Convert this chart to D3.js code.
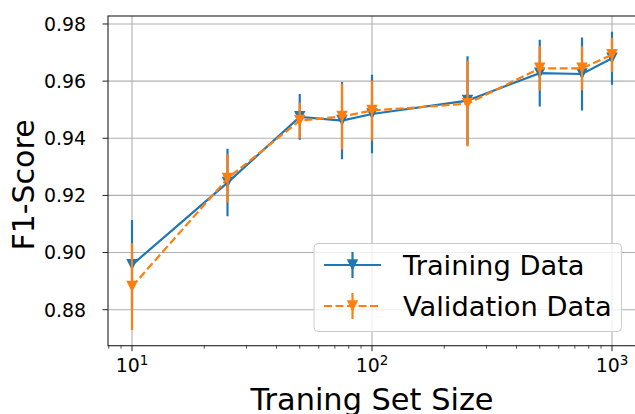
<!DOCTYPE html>
<html><head><meta charset="utf-8">
<script src="https://cdn.jsdelivr.net/npm/d3@7"></script>
<style>body{margin:0;background:#fff}svg{display:block;font-family:"DejaVu Sans",sans-serif}</style>
</head><body><svg id="c" width="635" height="414"></svg>
<script>
const sizes = [10, 25, 50, 75, 100, 250, 500, 750, 1000];
const trainScore = [0.8957, 0.9245, 0.9475, 0.9462, 0.9485, 0.9532, 0.9628, 0.9625, 0.9680];
const trainErr   = [0.0157, 0.0118, 0.0080, 0.0135, 0.0137, 0.0155, 0.0117, 0.0128, 0.0093];
const valScore   = [0.8881, 0.9259, 0.9462, 0.9476, 0.9497, 0.9521, 0.9645, 0.9645, 0.9692];
const valErr     = [0.0152, 0.0085, 0.0062, 0.0115, 0.0105, 0.0150, 0.0078, 0.0077, 0.0060];
const yTicks = [0.88, 0.90, 0.92, 0.94, 0.96, 0.98];
const xTicks = [10, 100, 1000];
const xTickExp = ["1", "2", "3"];
const seriesNames = ["Training Data", "Validation Data"];
const colors = ["#1f77b4", "#ff7f0e"];

const svg = d3.select("#c");
const L = 108, R = 636, T = 16, B = 345.7;
const x = d3.scaleLog().domain([Math.pow(10, 0.9), Math.pow(10, 3.1)]).range([L, R]);
const y = d3.scaleLinear().domain([0.8674, 0.9828]).range([B, T]);

const defs = svg.append("defs");
defs.append("clipPath").attr("id", "clip").append("rect").attr("x", L).attr("y", T).attr("width", R - L).attr("height", B - T);

// grid
const grid = svg.append("g").attr("stroke", "#b0b0b0").attr("stroke-width", 1.1);
xTicks.forEach(t => grid.append("line").attr("x1", x(t)).attr("x2", x(t)).attr("y1", T).attr("y2", B));
yTicks.forEach(t => grid.append("line").attr("x1", L).attr("x2", R).attr("y1", y(t)).attr("y2", y(t)));

// series
const plot = svg.append("g").attr("clip-path", "url(#clip)");
const series = [
  {vals: trainScore, err: trainErr, dash: null},
  {vals: valScore, err: valErr, dash: "8,3.5"}
];
const tri = s => `M${-s/2},${-s/2}L${s/2},${-s/2}L0,${s/2}Z`;
series.forEach((s, i) => {
  const g = plot.append("g");
  const pts = sizes.map((d, j) => ({x: d, v: s.vals[j], e: s.err[j]}));
  g.selectAll("line.eb").data(pts).enter().append("line")
    .attr("x1", d => x(d.x)).attr("x2", d => x(d.x))
    .attr("y1", d => y(d.v - d.e)).attr("y2", d => y(d.v + d.e))
    .attr("stroke", colors[i]).attr("stroke-width", 2.2);
  g.append("path").datum(pts)
    .attr("d", d3.line().x(d => x(d.x)).y(d => y(d.v)))
    .attr("fill", "none").attr("stroke", colors[i]).attr("stroke-width", 2.2)
    .attr("stroke-dasharray", s.dash);
  g.selectAll("path.m").data(pts).enter().append("path")
    .attr("transform", d => `translate(${x(d.x)},${y(d.v)})`)
    .attr("d", tri(11.5)).attr("fill", colors[i]);
});

// spines
const sp = svg.append("g").attr("stroke", "#222").attr("stroke-width", 1.1).attr("fill", "none");
sp.append("rect").attr("x", L).attr("y", T).attr("width", R - L).attr("height", B - T);

// y ticks
const ya = svg.append("g");
yTicks.forEach(t => {
  ya.append("line").attr("x1", L - 5.5).attr("x2", L).attr("y1", y(t)).attr("y2", y(t)).attr("stroke", "#222").attr("stroke-width", 1);
  ya.append("text").attr("x", 86).attr("y", y(t)).attr("dy", "0.36em").attr("text-anchor", "end")
    .attr("font-size", 18.9).attr("fill", "#000").text(t.toFixed(2));
});
// x ticks (major + minor)
const xa = svg.append("g");
xTicks.forEach((t, k) => {
  xa.append("line").attr("x1", x(t)).attr("x2", x(t)).attr("y1", B).attr("y2", B + 5.5).attr("stroke", "#222").attr("stroke-width", 1);
  const tx = xa.append("text").attr("x", x(t)).attr("y", 372).attr("text-anchor", "middle").attr("font-size", 18.9).attr("fill", "#000");
  tx.append("tspan").text("10");
  tx.append("tspan").attr("font-size", 13.5).attr("dy", -6.8).text(xTickExp[k]);
});
const [d0, d1] = x.domain();
for (let p = 0; p <= 3; p++) {
  for (let m = 2; m <= 9; m++) {
    const v = m * Math.pow(10, p);
    if (v >= d0 && v <= d1) {
      xa.append("line").attr("x1", x(v)).attr("x2", x(v)).attr("y1", B).attr("y2", B + 3).attr("stroke", "#222").attr("stroke-width", 0.8);
    }
  }
}

// axis labels
svg.append("text").attr("x", 372).attr("y", 410).attr("text-anchor", "middle").attr("font-size", 30.4).attr("fill", "#000").text("Traning Set Size");
svg.append("text").attr("transform", "translate(33.5,185) rotate(-90)").attr("text-anchor", "middle").attr("font-size", 30).attr("fill", "#000").text("F1-Score");

// legend
const lg = svg.append("g");
lg.append("rect").attr("x", 314).attr("y", 243.5).attr("width", 307.5).attr("height", 88).attr("rx", 4)
  .attr("fill", "#fff").attr("fill-opacity", 0.8).attr("stroke", "#cccccc").attr("stroke-width", 1);
const rowsY = [265, 306];
series.forEach((s, i) => {
  const ry = rowsY[i];
  lg.append("line").attr("x1", 324).attr("x2", 381).attr("y1", ry).attr("y2", ry)
    .attr("stroke", colors[i]).attr("stroke-width", 2.2).attr("stroke-dasharray", s.dash);
  lg.append("line").attr("x1", 352.5).attr("x2", 352.5).attr("y1", ry - 13).attr("y2", ry + 13)
    .attr("stroke", colors[i]).attr("stroke-width", 2.2);
  lg.append("path").attr("transform", `translate(352.5,${ry})`).attr("d", tri(11.5)).attr("fill", colors[i]);
  lg.append("text").attr("x", 403).attr("y", ry).attr("dy", "0.36em").attr("font-size", 27.3).attr("fill", "#000").text(seriesNames[i]);
});
</script></body></html>
